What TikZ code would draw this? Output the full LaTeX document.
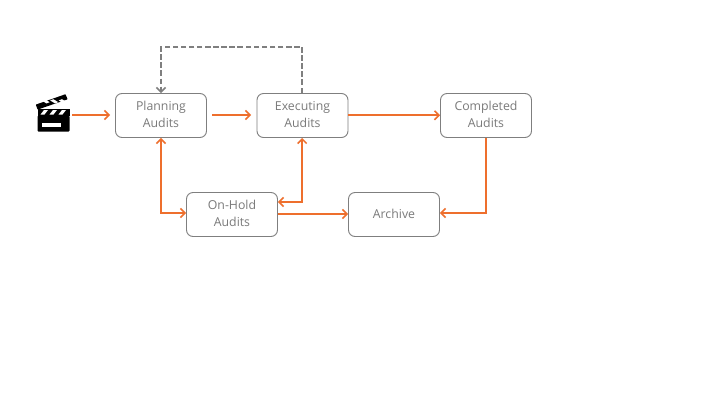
\documentclass[tikz,border=0pt]{standalone}
\usepackage{fontspec}
\setmainfont{Open Sans}
\usetikzlibrary{arrows.meta,calc}
\definecolor{flowc}{HTML}{EE6F2D}
\definecolor{boxc}{HTML}{7F7F7F}
\definecolor{textc}{HTML}{7A7A7A}
\tikzset{
  stage/.style={draw=boxc,line width=0.9pt,rounded corners=6.5pt,minimum width=91pt,minimum height=44pt,
    inner sep=0pt,align=center,text=textc,text depth=1.6pt,font=\fontsize{12.3pt}{17pt}\selectfont},
  flow/.style={draw=flowc,line width=1.8pt,-{Straight Barb[length=4.5pt,width=9pt,line width=1.5pt]}},
  flowboth/.style={draw=flowc,line width=1.8pt,{Straight Barb[length=4.5pt,width=9pt,line width=1.5pt]}-{Straight Barb[length=4.5pt,width=9pt,line width=1.5pt]}},
  loopback/.style={draw=boxc,line width=1.8pt,dash pattern=on 5.5pt off 2.6pt,-{Straight Barb[length=4.5pt,width=9pt,line width=1.5pt]}}
}
\begin{document}
\begin{tikzpicture}[x=1pt,y=-1pt]
\useasboundingbox (0,0) rectangle (720,405);
\fill[white] (0,0) rectangle (720,405);
% stages
\node[stage] (plan) at (161,115.5) {Planning\\Audits};
\node[stage] (exec) at (302.5,115.5) {Executing\\Audits};
\node[stage] (done) at (486,115.5) {Completed\\Audits};
\node[stage] (hold) at (232,214.5) {On-Hold\\Audits};
\node[stage] (arch) at (394,214.5) {Archive};
% clapperboard
\coordinate (icon) at (67,115);
\fill[black,rounded corners=1pt] (37.5,115.5) rectangle (69.5,131.5);
\fill[black] (37.5,109.3) rectangle (69.5,115.5);
\fill[white] (41.7,122.7) rectangle (60.7,126.7);
\foreach \s in {41,50,59}{\fill[white] (\s+3,110) -- (\s+7,110) -- (\s+3.5,114.5) -- (\s-0.5,114.5) -- cycle;}
\fill[black,rounded corners=0.5pt] (35.8,104.6) -- (65.5,94.2) -- (67.6,99.3) -- (37.6,109.6) -- cycle;
\foreach \s in {0,1,2}{\fill[white] ($(41.5,103.4)+(\s*8.6,-3)$) -- ($(44.8,102.2)+(\s*8.6,-3)$) -- ($(49.7,105.2)+(\s*8.6,-3)$) -- ($(46.4,106.4)+(\s*8.6,-3)$) -- cycle;}
% connectors
\draw[flow] ([xshift=5pt]icon) -- ([xshift=-5pt,yshift=0.5pt]plan.west);
\draw[flow] ([xshift=5.5pt,yshift=0.5pt]plan.east) -- ([xshift=-5.5pt,yshift=0.5pt]exec.west);
\draw[flow] ([yshift=0.2pt]exec.east) -- ([yshift=0.2pt]done.west);
\draw[loopback] ([xshift=-0.3pt]exec.north) -- ++(0,-46) -| (plan.north);
\draw[flowboth] (plan.south) |- ([yshift=1.5pt]hold.west);
\draw[flowboth] ([xshift=-0.3pt]exec.south) |- ([yshift=12.5pt]hold.east);
\draw[flow] ([yshift=0.5pt]hold.east) -- ([yshift=0.5pt]arch.west);
\draw[flow] (done.south) |- ([yshift=1.5pt]arch.east);
\end{tikzpicture}
\end{document}
